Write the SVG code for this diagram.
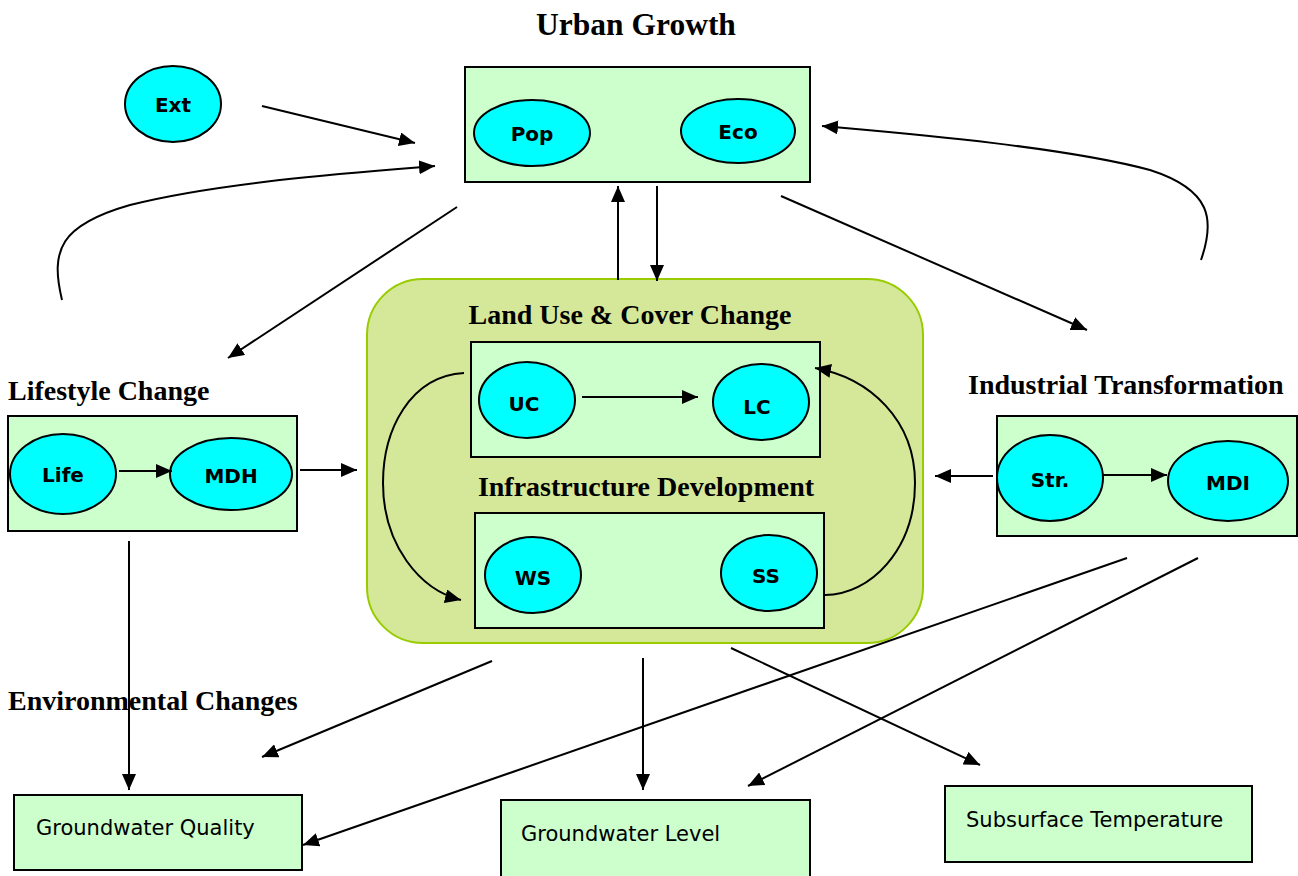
<svg xmlns="http://www.w3.org/2000/svg" width="1298" height="876" viewBox="0 0 1298 876">
  <defs>
    <marker id="arr" viewBox="0 0 16 14" refX="16" refY="7" markerWidth="16" markerHeight="14" markerUnits="userSpaceOnUse" orient="auto">
      <path d="M0,0 L16,7 L0,14 z" fill="#000"/>
    </marker>
  </defs>
  <style>
    .title { font-family: "Liberation Serif", "Times New Roman", serif; font-weight: bold; font-size: 28px; fill: #000; }
    .box { fill: #ccffcc; stroke: #000; stroke-width: 2; }
    .oval { fill: #00ffff; stroke: #000; stroke-width: 2; }
    .lbl { font-family: "DejaVu Sans", Verdana, sans-serif; font-weight: bold; font-size: 20px; fill: #000; text-anchor: middle; }
    .out { font-family: "DejaVu Sans", Verdana, sans-serif; font-size: 21px; fill: #000; }
    .edge { fill: none; stroke: #000; stroke-width: 2; marker-end: url(#arr); }
  </style>
  <rect width="1298" height="876" fill="#fff"/>

  <!-- Land use / infrastructure container -->
  <g id="core">
    <rect x="367" y="279" width="556" height="364" rx="56" ry="56" fill="#d5e899" stroke="#99cc00" stroke-width="2"/>
    <text class="title" x="630" y="324" text-anchor="middle">Land Use &amp; Cover Change</text>
    <text class="title" x="646" y="496" text-anchor="middle">Infrastructure Development</text>
  </g>

  <!-- Urban Growth -->
  <g id="urban-growth">
    <text class="title" x="636" y="35" text-anchor="middle" style="font-size:31.5px">Urban Growth</text>
    <rect class="box" x="465" y="67" width="345" height="115"/>
    <ellipse class="oval" cx="532" cy="133" rx="58" ry="33"/>
    <text class="lbl" x="532" y="141">Pop</text>
    <ellipse class="oval" cx="738" cy="131" rx="57" ry="32"/>
    <text class="lbl" x="738" y="139">Eco</text>
  </g>

  <g id="ext">
    <ellipse class="oval" cx="173" cy="104" rx="48" ry="38"/>
    <text class="lbl" x="173" y="112">Ext</text>
  </g>

  <!-- Land use & cover change -->
  <g id="land-use">
    <rect class="box" x="471" y="342" width="349" height="115"/>
    <ellipse class="oval" cx="527" cy="400" rx="48" ry="38"/>
    <text class="lbl" x="524" y="411">UC</text>
    <ellipse class="oval" cx="761" cy="402" rx="48" ry="38"/>
    <text class="lbl" x="757" y="414">LC</text>
  </g>

  <!-- Infrastructure development -->
  <g id="infrastructure">
    <rect class="box" x="475" y="513" width="349" height="115"/>
    <ellipse class="oval" cx="533" cy="575" rx="48" ry="38"/>
    <text class="lbl" x="533" y="585">WS</text>
    <ellipse class="oval" cx="769" cy="573" rx="48" ry="38"/>
    <text class="lbl" x="766" y="583">SS</text>
  </g>

  <!-- Lifestyle change -->
  <g id="lifestyle">
    <text class="title" x="8" y="400">Lifestyle Change</text>
    <rect class="box" x="8" y="416" width="289" height="115"/>
    <ellipse class="oval" cx="63" cy="474" rx="53" ry="40"/>
    <text class="lbl" x="63" y="482">Life</text>
    <ellipse class="oval" cx="231" cy="474" rx="61" ry="36"/>
    <text class="lbl" x="231" y="483">MDH</text>
  </g>

  <!-- Industrial transformation -->
  <g id="industrial">
    <text class="title" x="968" y="394">Industrial Transformation</text>
    <rect class="box" x="997" y="416" width="300" height="120"/>
    <ellipse class="oval" cx="1050" cy="478" rx="53" ry="43"/>
    <text class="lbl" x="1050" y="487">Str.</text>
    <ellipse class="oval" cx="1228" cy="481" rx="60" ry="40"/>
    <text class="lbl" x="1228" y="490">MDI</text>
  </g>

  <!-- Environmental changes -->
  <g id="environment">
    <text class="title" x="8" y="710">Environmental Changes</text>
  </g>
  <g id="gw-quality">
    <rect class="box" x="14" y="795" width="288" height="75"/>
    <text class="out" x="36" y="835">Groundwater Quality</text>
  </g>
  <g id="gw-level">
    <rect class="box" x="501" y="800" width="309" height="80"/>
    <text class="out" x="521" y="841">Groundwater Level</text>
  </g>
  <g id="subsurface">
    <rect class="box" x="945" y="786" width="307" height="76"/>
    <text class="out" x="966" y="827">Subsurface Temperature</text>
  </g>

  <!-- Connectors -->
  <g id="connectors">
    <path class="edge" d="M262,106 L415,143"/>
    <path class="edge" d="M62,300 C50,250 60,225 130,205 C220,182 360,172 435,166"/>
    <path class="edge" d="M1201,260 C1215,220 1212,190 1150,170 C1060,146 900,133 822,126"/>
    <path class="edge" d="M618,280 L618,186"/>
    <path class="edge" d="M657,186 L657,281"/>
    <path class="edge" d="M457,207 L228,358"/>
    <path class="edge" d="M781,196 L1087,330"/>
    <path class="edge" d="M582,397 L698,397"/>
    <path class="edge" d="M464,373 C410,376 383,430 383,483 C383,545 420,590 461,600"/>
    <path class="edge" d="M825,595 C870,595 915,550 915,483 C915,420 870,378 815,368"/>
    <path class="edge" d="M119,471 L172,471"/>
    <path class="edge" d="M300,470 L357,470"/>
    <path class="edge" d="M1103,475 L1167,475"/>
    <path class="edge" d="M993,476 L935,476"/>
    <path class="edge" d="M129,541 L129,790"/>
    <path class="edge" d="M492,661 L262,757"/>
    <path class="edge" d="M643,658 L643,790"/>
    <path class="edge" d="M731,648 L980,765"/>
    <path class="edge" d="M1127,558 L303,845"/>
    <path class="edge" d="M1198,558 L748,786"/>
  </g>
</svg>
